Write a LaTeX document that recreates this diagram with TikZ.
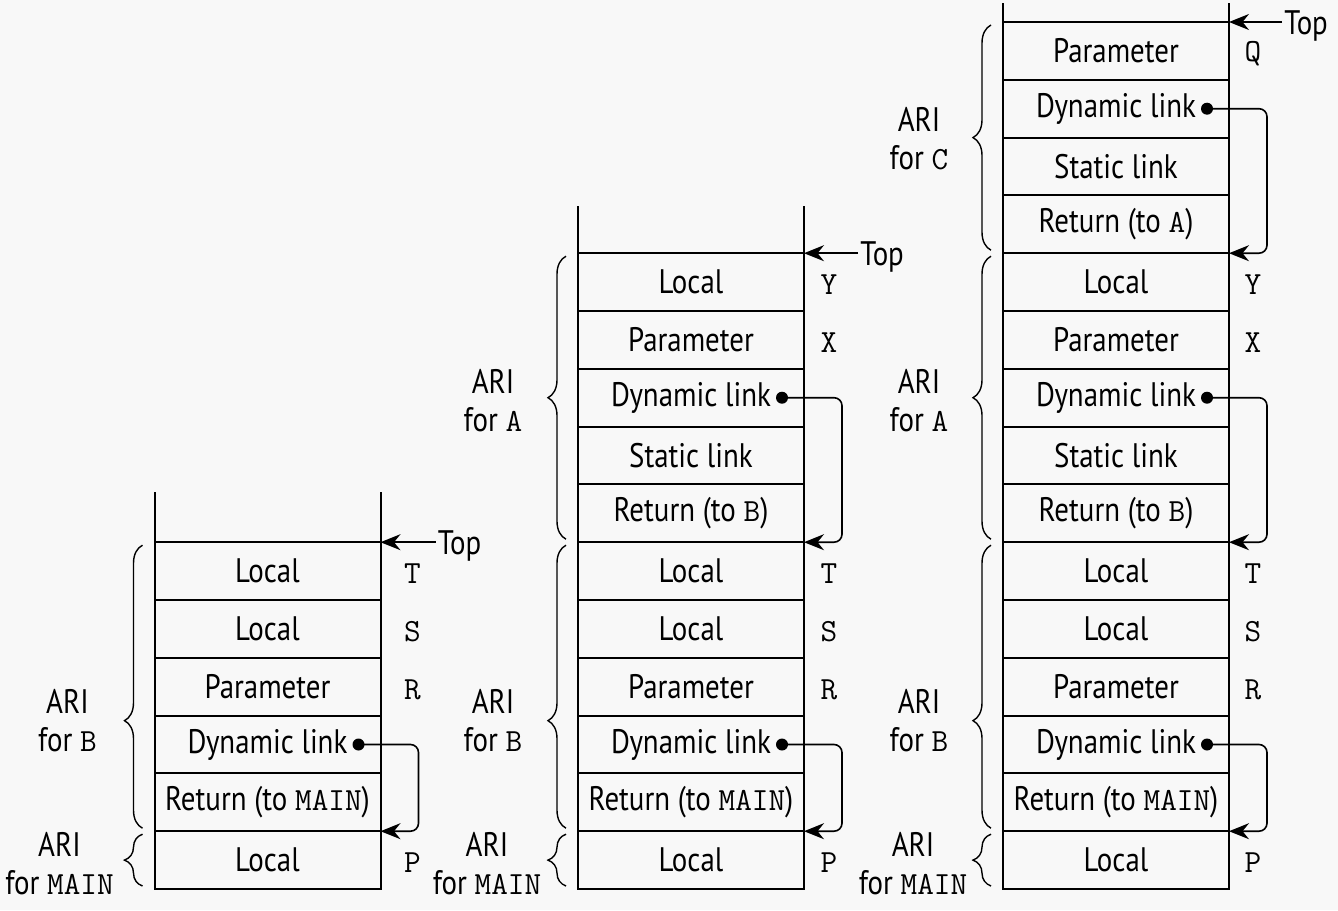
\documentclass[tikz,border=0pt]{standalone}
\usepackage{fontspec}
\setmainfont{PT Sans}[FakeStretch=0.85]
\setmonofont{Latin Modern Mono}[Scale=0.95]
\usetikzlibrary{arrows.meta,decorations.pathreplacing,positioning}
\definecolor{paper}{RGB}{248,248,248}
\newcommand{\stackfont}{\fontsize{17pt}{19pt}\selectfont}
\tikzset{
  cell/.style={draw, line width=1pt, minimum width=113pt, minimum height=28.9pt,
    inner sep=0pt, outer sep=0pt},
  var/.style={font=\stackfont\ttfamily, inner sep=0pt},
  ari/.style={align=center, inner sep=0pt},
  toplabel/.style={inner sep=1pt, anchor=base west, yshift=-6pt},
  toparrow/.style={line width=0.8pt, -{Stealth[length=10pt,width=8pt]}},
  dynlink/.style={line width=0.8pt, rounded corners=4pt, -{Stealth[length=10pt,width=8pt]}},
  aribrace/.style={decorate, decoration={brace, amplitude=9pt, aspect=#1}, line width=0.7pt},
  aribrace/.default=0.5
}
\begin{document}
\begin{tikzpicture}[x=0.5pt, y=-0.5pt, font=\stackfont]
  \fill[paper] (0,0) rectangle (1338,910);
  \useasboundingbox (0,0) rectangle (1338,910);

  % stack 1: MAIN calls B
  \foreach [count=\i] \txt in {Local, {Return (to \texttt{MAIN})}, Dynamic link, Parameter, Local, Local}
    \node[cell] (c1-\i) at (267.5, {889-57.8*(\i-0.5)}) {\txt};
  \foreach \i/\v in {1/P, 4/R, 5/S, 6/T}
    \node[var] (c1-v\i) at ([xshift=16pt, yshift=-1.5pt]c1-\i.east) {\v};
  \draw[line width=1pt] (c1-6.north west) -- ++(0,-50) (c1-6.north east) -- ++(0,-50);
  \node[toplabel] (c1-top) at ([xshift=27.5pt]c1-6.north east) {Top};
  \draw[toparrow] (c1-top.west |- c1-6.north east) -- (c1-6.north east);
  \coordinate (c1-dot3) at ([xshift=-11pt]c1-3.east);
  \fill (c1-dot3) circle (3pt);
  \draw[dynlink] (c1-dot3) -- ++(30pt,0) |- (c1-1.north east);
  \draw[aribrace] ([xshift=-6pt, yshift=1.5pt]c1-1.south west) -- ([xshift=-6pt, yshift=-1.5pt]c1-1.north west);
  \draw[aribrace=0.38] ([xshift=-6pt, yshift=1.5pt]c1-1.north west) -- ([xshift=-6pt, yshift=-1.5pt]c1-6.north west);
  \node[ari] (c1-arimain) at ([xshift=-47.5pt, yshift=-2pt]c1-1.west) {ARI\\for \texttt{MAIN}};
  \node[ari] (c1-arib) at ([xshift=-43.5pt, yshift=-2.5pt]c1-3.north west) {ARI\\for \texttt{B}};

  % stack 2: B calls A
  \foreach [count=\i] \txt in {Local, {Return (to \texttt{MAIN})}, Dynamic link, Parameter, Local, Local,
      {Return (to \texttt{B})}, Static link, Dynamic link, Parameter, Local}
    \node[cell] (c2-\i) at (691, {889-57.8*(\i-0.5)}) {\txt};
  \foreach \i/\v in {1/P, 4/R, 5/S, 6/T, 10/X, 11/Y}
    \node[var] (c2-v\i) at ([xshift=12.5pt, yshift=-1.5pt]c2-\i.east) {\v};
  \draw[line width=1pt] (c2-11.north west) -- ++(0,-47) (c2-11.north east) -- ++(0,-47);
  \node[toplabel] (c2-top) at ([xshift=27pt]c2-11.north east) {Top};
  \draw[toparrow] (c2-top.west |- c2-11.north east) -- (c2-11.north east);
  \coordinate (c2-dot3) at ([xshift=-11pt]c2-3.east);
  \coordinate (c2-dot9) at ([xshift=-11pt]c2-9.east);
  \fill (c2-dot3) circle (3pt) (c2-dot9) circle (3pt);
  \draw[dynlink] (c2-dot3) -- ++(30pt,0) |- (c2-1.north east);
  \draw[dynlink] (c2-dot9) -- ++(30pt,0) |- (c2-6.north east);
  \draw[aribrace] ([xshift=-6pt, yshift=1.5pt]c2-1.south west) -- ([xshift=-6pt, yshift=-1.5pt]c2-1.north west);
  \draw[aribrace=0.38] ([xshift=-6pt, yshift=1.5pt]c2-1.north west) -- ([xshift=-6pt, yshift=-1.5pt]c2-6.north west);
  \draw[aribrace] ([xshift=-6pt, yshift=1.5pt]c2-6.north west) -- ([xshift=-6pt, yshift=-1.5pt]c2-11.north west);
  \node[ari] (c2-arimain) at ([xshift=-45.5pt, yshift=-2pt]c2-1.west) {ARI\\for \texttt{MAIN}};
  \node[ari] (c2-arib) at ([xshift=-42.5pt, yshift=-2.5pt]c2-3.north west) {ARI\\for \texttt{B}};
  \node[ari] (c2-aria) at ([xshift=-42.5pt, yshift=-1.5pt]c2-9.west) {ARI\\for \texttt{A}};

  % stack 3: A calls C
  \foreach [count=\i] \txt in {Local, {Return (to \texttt{MAIN})}, Dynamic link, Parameter, Local, Local,
      {Return (to \texttt{B})}, Static link, Dynamic link, Parameter, Local,
      {Return (to \texttt{A})}, Static link, Dynamic link, Parameter}
    \node[cell] (c3-\i) at (1116, {889-57.8*(\i-0.5)}) {\txt};
  \foreach \i/\v in {1/P, 4/R, 5/S, 6/T, 10/X, 11/Y, 15/Q}
    \node[var] (c3-v\i) at ([xshift=12pt, yshift=-1.5pt]c3-\i.east) {\v};
  \draw[line width=1pt] (c3-15.north west) -- ++(0,-19) (c3-15.north east) -- ++(0,-19);
  \node[toplabel] (c3-top) at ([xshift=26.5pt]c3-15.north east) {Top};
  \draw[toparrow] (c3-top.west |- c3-15.north east) -- (c3-15.north east);
  \coordinate (c3-dot3) at ([xshift=-11pt]c3-3.east);
  \coordinate (c3-dot9) at ([xshift=-11pt]c3-9.east);
  \coordinate (c3-dot14) at ([xshift=-11pt]c3-14.east);
  \fill (c3-dot3) circle (3pt) (c3-dot9) circle (3pt) (c3-dot14) circle (3pt);
  \draw[dynlink] (c3-dot3) -- ++(30pt,0) |- (c3-1.north east);
  \draw[dynlink] (c3-dot9) -- ++(30pt,0) |- (c3-6.north east);
  \draw[dynlink] (c3-dot14) -- ++(30pt,0) |- (c3-11.north east);
  \draw[aribrace] ([xshift=-6pt, yshift=1.5pt]c3-1.south west) -- ([xshift=-6pt, yshift=-1.5pt]c3-1.north west);
  \draw[aribrace=0.38] ([xshift=-6pt, yshift=1.5pt]c3-1.north west) -- ([xshift=-6pt, yshift=-1.5pt]c3-6.north west);
  \draw[aribrace] ([xshift=-6pt, yshift=1.5pt]c3-6.north west) -- ([xshift=-6pt, yshift=-1.5pt]c3-11.north west);
  \draw[aribrace] ([xshift=-6pt, yshift=1.5pt]c3-11.north west) -- ([xshift=-6pt, yshift=-1.5pt]c3-15.north west);
  \node[ari] (c3-arimain) at ([xshift=-45pt, yshift=-2pt]c3-1.west) {ARI\\for \texttt{MAIN}};
  \node[ari] (c3-arib) at ([xshift=-42pt, yshift=-2.5pt]c3-3.north west) {ARI\\for \texttt{B}};
  \node[ari] (c3-aria) at ([xshift=-42pt, yshift=-1.5pt]c3-9.west) {ARI\\for \texttt{A}};
  \node[ari] (c3-aric) at ([xshift=-42pt, yshift=-0.7pt]c3-13.north west) {ARI\\for \texttt{C}};
\end{tikzpicture}
\end{document}
